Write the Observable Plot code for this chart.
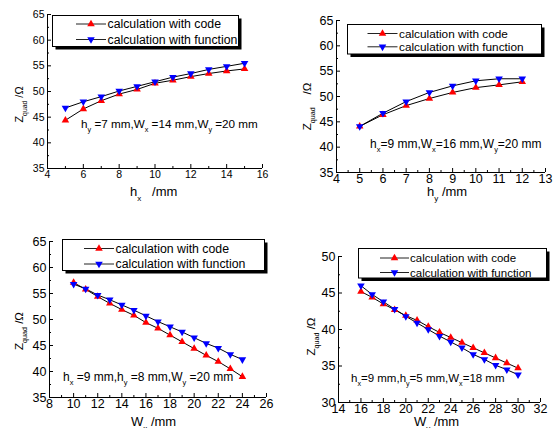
<!DOCTYPE html>
<html><head><meta charset="utf-8">
<script src="https://cdn.jsdelivr.net/npm/d3@7"></script>
<script src="https://cdn.jsdelivr.net/npm/@observablehq/plot@0.6"></script>
<style>
body{margin:0;background:#fff;}
#wrap{position:relative;width:553px;height:428px;overflow:hidden;background:#fff;font-family:"Liberation Sans",Arial,sans-serif;}
#wrap > svg{position:absolute;}
</style></head><body><div id="wrap"></div>
<script>
// ---- data ----
const seriesNames = ["calculation with code", "calculation with function"];

const hxValues = [5, 6, 7, 8, 9, 10, 11, 12, 13, 14, 15];
const codeHx = [44.4, 46.6, 48.2, 49.5, 50.4, 51.6, 52.2, 52.9, 53.5, 54.0, 54.4];
const funcHx = [46.8, 48.0, 49.0, 50.1, 51.0, 51.9, 52.8, 53.5, 54.3, 54.9, 55.5];

const hyValues = [5, 6, 7, 8, 9, 10, 11, 12];
const codeHy = [44.1, 46.4, 48.2, 49.6, 50.8, 51.75, 52.3, 52.9];
const funcHy = [44.1, 46.7, 49.0, 50.8, 52.1, 53.1, 53.5, 53.5];

const wxValues = [10, 11, 12, 13, 14, 15, 16, 17, 18, 19, 20, 21, 22, 23, 24];
const codeWx = [57.1, 55.8, 54.4, 53.1, 51.9, 50.8, 49.4, 48.3, 47.0, 45.7, 44.4, 43.1, 41.9, 40.5, 39.0];
const funcWx = [56.8, 55.9, 54.7, 53.8, 52.8, 51.8, 50.7, 49.6, 48.6, 47.6, 46.5, 45.4, 44.5, 43.3, 42.3];

const wyValues = [16, 17, 18, 19, 20, 21, 22, 23, 24, 25, 26, 27, 28, 29, 30];
const codeWy = [45.2, 44.4, 43.5, 42.7, 41.9, 41.25, 40.4, 39.6, 38.9, 38.2, 37.5, 36.8, 36.1, 35.4, 34.7];
const funcWy = [46.0, 44.8, 43.8, 42.8, 41.8, 40.9, 40.0, 39.1, 38.3, 37.5, 36.6, 35.9, 35.1, 34.5, 33.8];

// tick labels
const xTicks1 = [4, 6, 8, 10, 12, 14, 16];
const xTicks2 = [4, 5, 6, 7, 8, 9, 10, 11, 12, 13];
const xTicks3 = [8, 10, 12, 14, 16, 18, 20, 22, 24, 26];
const xTicks4 = [14, 16, 18, 20, 22, 24, 26, 28, 30, 32];
const yTicks123 = [35, 40, 45, 50, 55, 60, 65];
const yTicks4 = [30, 35, 40, 45, 50];

// texts: [text, isSubscript]
const xLabel1 = [["h", 0], ["x", 1], ["   /mm", 0]];
const xLabel2 = [["h", 0], ["y", 1], [" /mm", 0]];
const xLabel3 = [["W", 0], ["x", 1], [" /mm", 0]];
const xLabel4 = [["W", 0], ["y", 1], [" /mm", 0]];
const yLabel = [["Z", 0], ["quad", 1], [" /Ω", 0]];
const yLabel2 = [["Z", 0], ["quad", 1], ["    /Ω", 0]];
const note1 = [["h", 0], ["y", 1], [" =7 mm,W", 0], ["x", 1], [" =14 mm,W", 0], ["y", 1], [" =20 mm", 0]];
const note2 = [["h", 0], ["x", 1], ["=9 mm,W", 0], ["x", 1], ["=16 mm,W", 0], ["y", 1], ["=20 mm", 0]];
const note3 = [["h", 0], ["x", 1], [" =9 mm,h", 0], ["y", 1], [" =8 mm,W", 0], ["y", 1], [" =20 mm", 0]];
const note4 = [["h", 0], ["x", 1], ["=9 mm,h", 0], ["y", 1], ["=5 mm,W", 0], ["x", 1], ["=18 mm", 0]];

const FONT = "'Liberation Sans', Arial, sans-serif";
const R = 2.8;
const wrap = document.getElementById("wrap");

function range(a, b, s) { const r = []; for (let v = a; v <= b + 1e-9; v += s) r.push(+v.toFixed(4)); return r; }

function panel(p) {
  const [mt, mr, mb, ml] = p.margin;
  const fh = p.height - mt - mb, fw = p.width - ml - mr;
  const dc = p.x.map((v, i) => ({x: v, y: p.code[i]}));
  const df = p.x.map((v, i) => ({x: v, y: p.func[i]}));
  const el = Plot.plot({
    width: p.width, height: p.height,
    marginTop: mt, marginRight: mr, marginBottom: mb, marginLeft: ml,
    x: {domain: p.xDomain}, y: {domain: p.yDomain},
    style: {fontFamily: FONT, fontSize: p.fs + "px", color: "#000", background: "transparent", overflow: "visible"},
    marks: [
      Plot.ruleX([p.xDomain[0]], {stroke: "#000", strokeWidth: 1}),
      Plot.ruleY([p.yDomain[0]], {stroke: "#000", strokeWidth: 1}),
      Plot.tickX(p.xMajor, {x: d => d, insetTop: fh - 4, stroke: "#000"}),
      Plot.tickX(p.xMinor, {x: d => d, insetTop: fh - 2, stroke: "#000"}),
      Plot.tickY(p.yMajor, {y: d => d, insetRight: fw - 4, stroke: "#000"}),
      Plot.tickY(p.yMinor, {y: d => d, insetRight: fw - 2, stroke: "#000"}),
      Plot.axisX({ticks: p.xMajor, tickSize: 0, tickPadding: 2, label: null, fontSize: p.fs, fill: "#000"}),
      Plot.axisY({ticks: p.yMajor, tickSize: 0, tickPadding: 3, label: null, fontSize: p.fs, fill: "#000"}),
      Plot.line(dc, {x: "x", y: "y", stroke: "#000", strokeWidth: 1}),
      Plot.line(df, {x: "x", y: "y", stroke: "#000", strokeWidth: 1}),
      Plot.dot(dc, {x: "x", y: "y", symbol: "triangle", r: R, fill: "#ff0000", stroke: "none"}),
      Plot.dot(df, {x: "x", y: "y", symbol: "triangle", r: R, rotate: 180, fill: "#0000ff", stroke: "none"})
    ]
  });
  el.style.left = p.left + "px";
  el.style.top = p.top + "px";
  wrap.appendChild(el);
}

panel({x: hxValues, code: codeHx, func: funcHx, xDomain: [4, 16], yDomain: [35, 65],
  xMajor: xTicks1, xMinor: range(5, 15, 2), yMajor: yTicks123, yMinor: range(37.5, 62.5, 5),
  left: 0, top: 0, width: 276, height: 214, margin: [14, 14, 46, 47], fs: 10.5});
panel({x: hyValues, code: codeHy, func: funcHy, xDomain: [4, 13], yDomain: [35, 65],
  xMajor: xTicks2, xMinor: range(4.5, 12.5, 1), yMajor: yTicks123, yMinor: range(37.5, 62.5, 5),
  left: 277, top: 0, width: 276, height: 214, margin: [20, 8, 42, 59], fs: 12.5});
panel({x: wxValues, code: codeWx, func: funcWx, xDomain: [8, 26], yDomain: [35, 65],
  xMajor: xTicks3, xMinor: range(9, 25, 2), yMajor: yTicks123, yMinor: range(37.5, 62.5, 5),
  left: 0, top: 214, width: 276, height: 214, margin: [27, 10, 31, 49], fs: 12.5});
panel({x: wyValues, code: codeWy, func: funcWy, xDomain: [14, 32], yDomain: [30, 50],
  xMajor: xTicks4, xMinor: range(15, 31, 2), yMajor: yTicks4, yMinor: range(32.5, 47.5, 5),
  left: 277, top: 214, width: 276, height: 214, margin: [42, 13, 26, 61], fs: 12.5});

// ---- overlay: legends, notes, axis titles ----
const svg = d3.select(wrap).append("svg")
  .attr("width", 553).attr("height", 428)
  .style("left", "0px").style("top", "0px")
  .style("font-family", FONT).style("pointer-events", "none");

function richText(parts, x, y, fs, opts = {}) {
  const t = svg.append("text").attr("font-size", fs).attr("fill", "#000")
    .attr("text-anchor", opts.anchor || "start").attr("xml:space", "preserve");
  if (opts.rotate) t.attr("transform", `translate(${x},${y}) rotate(-90)`);
  else t.attr("x", x).attr("y", y);
  let sub = false;
  parts.forEach(([s, isSub]) => {
    const ts = t.append("tspan").text(s).style("white-space", "pre");
    if (isSub && !sub) { ts.attr("dy", fs * 0.35).attr("font-size", fs * 0.62); sub = true; }
    else if (!isSub && sub) { ts.attr("dy", -fs * 0.35); sub = false; }
    else if (isSub) ts.attr("font-size", fs * 0.62);
  });
  return t;
}

const triUp = d3.symbol(d3.symbolTriangle, Math.PI * R * R)();

function legend(l) {
  svg.append("rect").attr("x", l.x + 3).attr("y", l.y + 3).attr("width", l.w).attr("height", l.h).attr("fill", "#000");
  svg.append("rect").attr("x", l.x).attr("y", l.y).attr("width", l.w).attr("height", l.h)
    .attr("fill", "#fff").attr("stroke", "#000").attr("stroke-width", 1);
  [l.r1, l.r2].forEach((ry, i) => {
    svg.append("line").attr("x1", l.lx1).attr("x2", l.lx2).attr("y1", ry).attr("y2", ry)
      .attr("stroke", "#222").attr("stroke-width", 1);
    svg.append("path").attr("d", triUp)
      .attr("transform", `translate(${(l.lx1 + l.lx2) / 2},${ry}) rotate(${i ? 180 : 0})`)
      .attr("fill", i ? "#0000ff" : "#ff0000");
    svg.append("text").attr("x", l.tx).attr("y", ry + l.fs * 0.35).attr("font-size", l.fs)
      .attr("fill", "#000").text(seriesNames[i]);
  });
}

legend({x: 52.5, y: 15.5, w: 186, h: 31, r1: 24, r2: 39.5, lx1: 76, lx2: 106, tx: 107.5, fs: 12.3});
legend({x: 347.5, y: 24.5, w: 194, h: 29.5, r1: 33.5, r2: 46.8, lx1: 367.5, lx2: 397.5, tx: 399, fs: 11.8});
legend({x: 62.5, y: 239.5, w: 202, h: 31, r1: 248.5, r2: 264, lx1: 84, lx2: 114, tx: 115.5, fs: 12.3});
legend({x: 358.5, y: 248.5, w: 188, h: 29.5, r1: 258, r2: 272.5, lx1: 380, lx2: 409, tx: 410, fs: 11.5});

richText(note1, 81, 128, 11.7);
richText(note2, 370, 147.5, 12);
richText(note3, 63, 381, 12);
richText(note4, 351, 382, 11.5);

richText(xLabel1, 130, 196, 13);
richText(xLabel2, 427, 196, 13);
richText(xLabel3, 131, 426, 13);
richText(xLabel4, 414, 426, 13);

richText(yLabel, 23, 104.5, 11, {rotate: true, anchor: "middle"});
richText(yLabel2, 311, 106.5, 11.5, {rotate: true, anchor: "middle"});
richText(yLabel, 23, 331, 11.5, {rotate: true, anchor: "middle"});
richText(yLabel, 315, 336.5, 11.5, {rotate: true, anchor: "middle"});
</script>
</body></html>
